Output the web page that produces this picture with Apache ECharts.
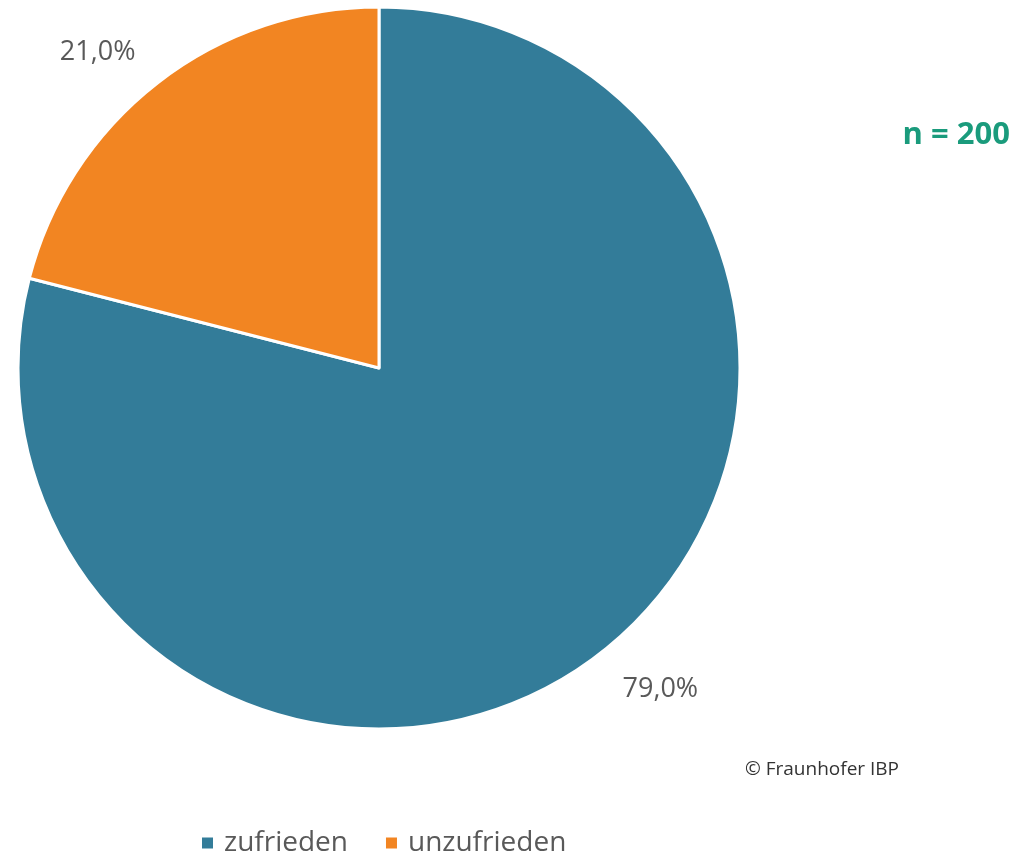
<!DOCTYPE html>
<html>
<head>
<meta charset="utf-8">
<script src="https://cdn.jsdelivr.net/npm/echarts@6/dist/echarts.min.js"></script>
<style>html,body{margin:0;padding:0;background:#fff}#c{width:1016px;height:858px}</style>
</head>
<body>
<div id="c"></div>
<script>
const categories = ['zufrieden', 'unzufrieden'];
const values = [79.0, 21.0];
const colors = ['#337c99', '#f28522'];
const sampleNote = 'n = 200';
const copyright = '© Fraunhofer IBP';

const chart = echarts.init(document.getElementById('c'), null, {renderer: 'canvas'});
const fontFam = '"Open Sans", "Noto Sans", sans-serif';
chart.setOption({
  backgroundColor: '#fff',
  animation: false,
  color: colors,
  legend: {
    bottom: -4,
    left: 195,
    itemWidth: 13,
    itemHeight: 13,
    itemGap: 36,
    icon: 'rect',
    textStyle: {fontFamily: fontFam, fontSize: 28, color: '#595959', padding: [0, 0, 0, 5]},
    data: categories
  },
  graphic: [
    {type: 'text', right: 6, top: 120, style: {text: sampleNote, fontFamily: fontFam, fontSize: 31, fontWeight: 'bold', fill: '#1a9b7c'}},
    {type: 'text', left: 745, top: 760, style: {text: copyright, fontFamily: fontFam, fontSize: 19, fill: '#333333'}}
  ],
  series: [{
    type: 'pie',
    center: [379, 368],
    radius: 361,
    startAngle: 90,
    clockwise: true,
    avoidLabelOverlap: false,
    itemStyle: {borderColor: '#fff', borderWidth: 3},
    label: {
      show: true,
      position: 'outside',
      formatter: p => p.value.toFixed(1).replace('.', ',') + '%',
      fontFamily: fontFam,
      fontSize: 27,
      color: '#595959'
    },
    labelLine: {show: false, length: 38, length2: 0},
    labelLayout: p => (p.dataIndex === 0 ? {dy: 6, dx: -6} : {dx: 6}),
    emphasis: {disabled: true},
    data: categories.map((n, i) => ({name: n, value: values[i]}))
  }]
});
</script>
</body>
</html>
